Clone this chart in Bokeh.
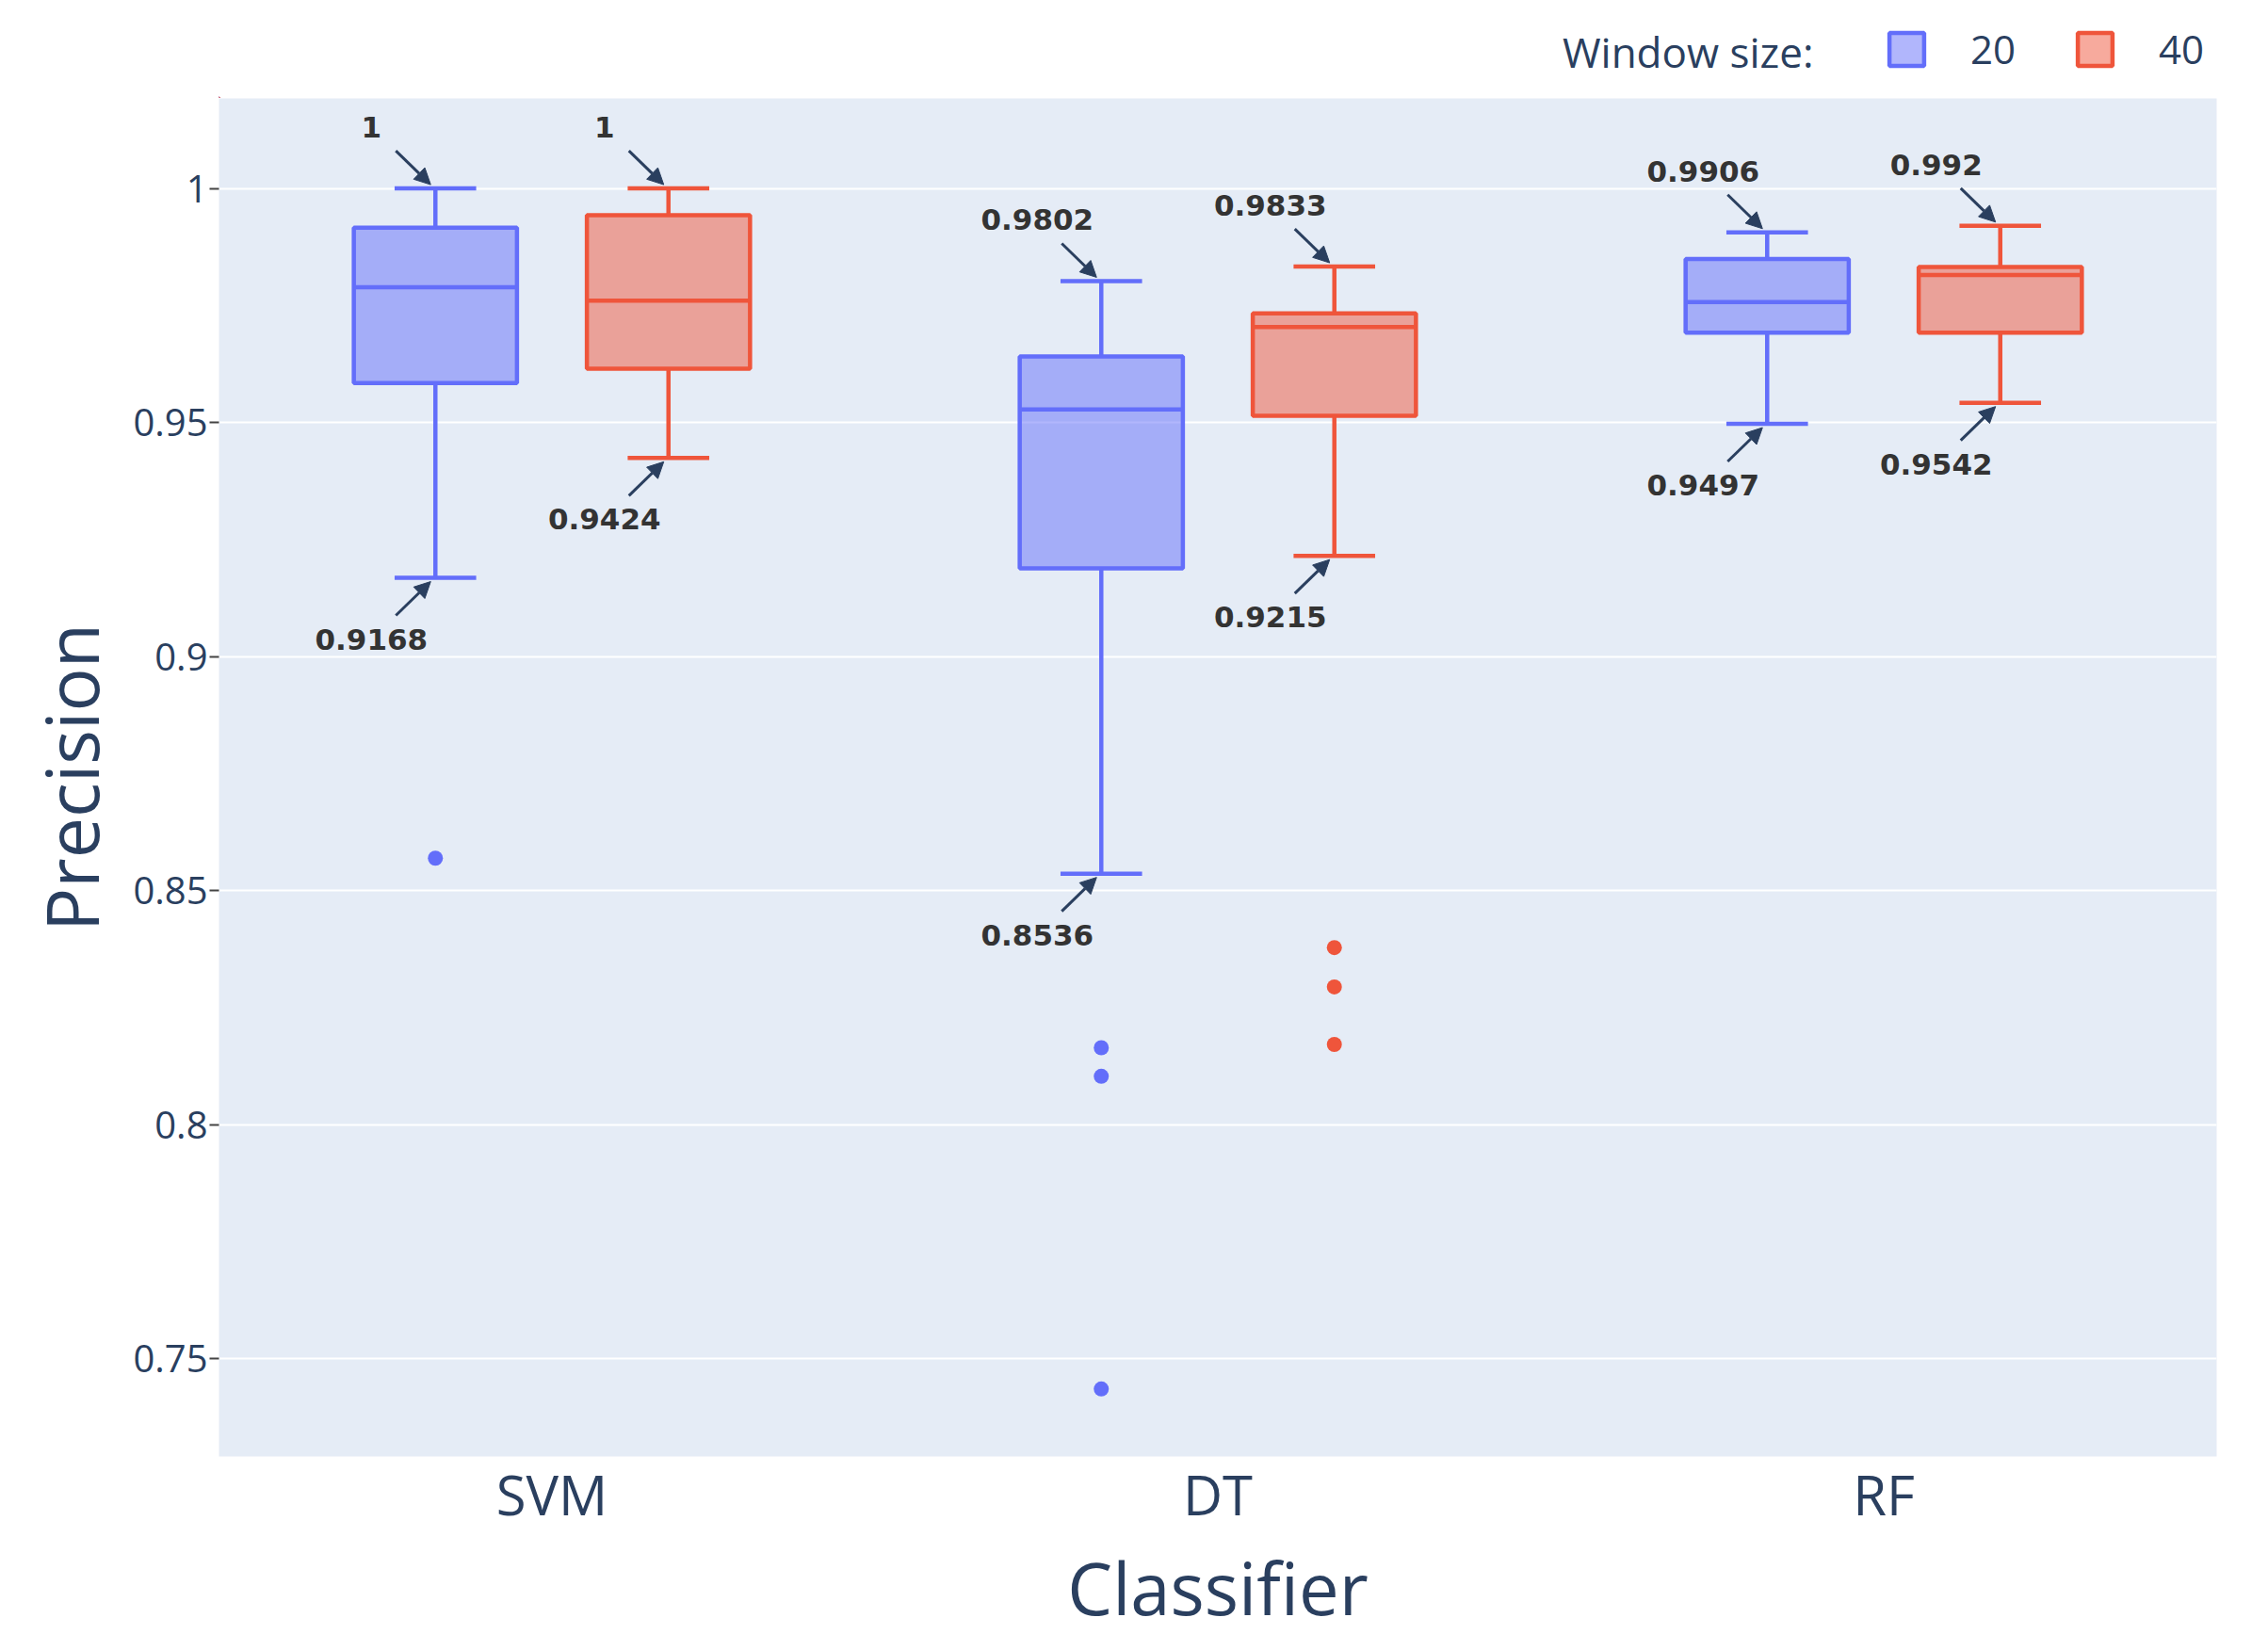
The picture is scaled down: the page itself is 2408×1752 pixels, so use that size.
from bokeh.plotting import figure
from bokeh.layouts import column
from bokeh.models import (ColumnDataSource, FactorRange, Range1d, Legend, LegendItem, Label,
                          Arrow, NormalHead, FixedTicker, CustomJSTickFormatter)
from bokeh.embed import file_html
from bokeh.resources import INLINE
from bokeh.core.properties import value

# ---------------- data ----------------
classifiers = ["SVM", "DT", "RF"]
window_sizes = ["20", "40"]
legend_title = "Window size:"

w20_lower = [0.9168, 0.8536, 0.9497]
w20_q1 = [0.9584, 0.9188, 0.9692]
w20_median = [0.9789, 0.9528, 0.9757]
w20_q3 = [0.9916, 0.9641, 0.9849]
w20_upper = [1.0, 0.9802, 0.9906]
w20_outlier_cls = ["SVM", "DT", "DT", "DT"]
w20_outliers = [0.8569, 0.8164, 0.8103, 0.7435]

w40_lower = [0.9424, 0.9215, 0.9542]
w40_q1 = [0.9615, 0.9514, 0.9692]
w40_median = [0.9760, 0.9704, 0.9815]
w40_q3 = [0.9943, 0.9733, 0.9832]
w40_upper = [1.0, 0.9833, 0.992]
w40_outlier_cls = ["DT", "DT", "DT"]
w40_outliers = [0.8378, 0.8294, 0.8171]

y_ticks = [0.75, 0.8, 0.85, 0.9, 0.95, 1.0]

# ---------------- style ----------------
COL20 = "#636efa"
COL40 = "#EF553B"
TXT = "#2a3f5f"
BG = "#E5ECF6"
FONT = "Open Sans"

FRAME_W, FRAME_H = 2121, 1442
BORDER_L, BORDER_R, BORDER_B = 232, 53, 204
TOTAL_W = BORDER_L + FRAME_W + BORDER_R
LEG_H = 104
Y0, Y1 = 0.72907, 1.01923
BOX_W = 0.245
OFFSET = 0.175
CAP_W = BOX_W / 2
LW = 4.5

p = figure(x_range=FactorRange(*classifiers), y_range=Range1d(Y0, Y1),
           frame_width=FRAME_W, frame_height=FRAME_H,
           min_border_left=BORDER_L, min_border_right=BORDER_R, min_border_top=0,
           min_border_bottom=BORDER_B,
           output_backend="svg", toolbar_location=None)
p.background_fill_color = BG
p.border_fill_color = "white"
p.outline_line_color = None

cat_index = {c: i for i, c in enumerate(classifiers)}
px_x = FRAME_W / len(classifiers)          # pixels per category unit
px_y = FRAME_H / (Y1 - Y0)                 # pixels per y unit

series = [
    ("20", COL20, -OFFSET, w20_lower, w20_q1, w20_median, w20_q3, w20_upper, w20_outlier_cls, w20_outliers),
    ("40", COL40, OFFSET, w40_lower, w40_q1, w40_median, w40_q3, w40_upper, w40_outlier_cls, w40_outliers),
]

# small figure above the chart that holds the legend (its frame aligns with the chart's frame)
lf = figure(width=TOTAL_W, height=LEG_H, x_range=Range1d(0, 1), y_range=Range1d(0, 1),
            min_border=0, x_axis_location=None, y_axis_location=None,
            output_backend="svg", toolbar_location=None)
lf.grid.visible = False
lf.outline_line_color = None
lf.background_fill_color = "white"
lf.border_fill_color = "white"

legend_items = []
ann_x, ann_y, ann_lab, ann_dy = [], [], [], []
arr = dict(xs=[], ys=[], xe=[], ye=[])

for name, col, off, lo, q1, med, q3, up, ocls, ovals in series:
    xs = [cat_index[c] + 0.5 + off for c in classifiers]
    src = ColumnDataSource(dict(
        x=xs, lower=lo, q1=q1, median=med, q3=q3, upper=up,
        xl=[x - BOX_W / 2 for x in xs], xr=[x + BOX_W / 2 for x in xs],
        cl=[x - CAP_W / 2 for x in xs], cr=[x + CAP_W / 2 for x in xs]))
    # whiskers
    p.segment(x0="x", x1="x", y0="q3", y1="upper", source=src, line_color=col, line_width=LW)
    p.segment(x0="x", x1="x", y0="q1", y1="lower", source=src, line_color=col, line_width=LW)
    p.segment(x0="cl", x1="cr", y0="upper", y1="upper", source=src, line_color=col, line_width=LW)
    p.segment(x0="cl", x1="cr", y0="lower", y1="lower", source=src, line_color=col, line_width=LW)
    p.vbar(x="x", width=BOX_W, bottom="q1", top="q3", source=src,
           fill_color=col, fill_alpha=0.5, line_color=col, line_width=LW)
    p.segment(x0="xl", x1="xr", y0="median", y1="median", source=src, line_color=col, line_width=LW)
    osrc = ColumnDataSource(dict(x=[cat_index[c] + 0.5 + off for c in ocls], y=ovals))
    p.scatter(x="x", y="y", source=osrc, size=16, fill_color=col, line_color=col, line_width=0)

    # legend swatch renderer (same styling; one off-screen row so the swatch gets drawn)
    lr = lf.vbar(x="x", width=0.1, bottom="b", top="t",
                 source=ColumnDataSource(dict(x=[-10], b=[-10], t=[-9])),
                 fill_color=col, fill_alpha=0.5, line_color=col, line_width=LW)
    legend_items.append(LegendItem(label=name, renderers=[lr]))

    for x, u, l in zip(xs, up, lo):
        for v, sgn in ((u, -1), (l, 1)):
            ann_x.append(x)
            ann_y.append(v)
            ann_lab.append(f"{v:g}")
            ann_dy.append(sgn)
            arr["xs"].append(x - 42 / px_x)
            arr["ys"].append(v - sgn * 40 / px_y)
            arr["xe"].append(x - 5 / px_x)
            arr["ye"].append(v - sgn * 4 / px_y)

# annotation texts
for sgn in (-1, 1):
    idx = [i for i, s in enumerate(ann_dy) if s == sgn]
    tsrc = ColumnDataSource(dict(x=[ann_x[i] for i in idx], y=[ann_y[i] for i in idx],
                                 t=[ann_lab[i] for i in idx]))
    p.text(x="x", y="y", text="t", source=tsrc, x_offset=-68, y_offset=sgn * 65,
           text_align="center", text_baseline="middle",
           text_font=value("DejaVu Sans"), text_font_style="bold",
           text_font_size="31px", text_color="#333333")

asrc = ColumnDataSource(dict(x_start=arr["xs"], y_start=arr["ys"], x_end=arr["xe"], y_end=arr["ye"]))
p.add_layout(Arrow(source=asrc, x_start="x_start", y_start="y_start", x_end="x_end", y_end="y_end",
                   line_color=TXT, line_width=3,
                   end=NormalHead(size=17, fill_color=TXT, line_color=TXT, line_width=1)))

# axes
p.xgrid.grid_line_color = None
p.ygrid.grid_line_color = "white"
p.ygrid.grid_line_width = 2
p.yaxis.ticker = FixedTicker(ticks=y_ticks)
p.yaxis.formatter = CustomJSTickFormatter(code="return String(Math.round(tick*100)/100);")
p.yaxis.axis_line_color = None
p.yaxis.major_tick_out = 10
p.yaxis.major_tick_in = 0
p.yaxis.major_tick_line_color = "#444444"
p.yaxis.major_tick_line_width = 2
p.yaxis.minor_tick_line_color = None
p.yaxis.major_label_standoff = 2
p.yaxis.major_label_text_font = FONT
p.yaxis.major_label_text_font_size = "40px"
p.yaxis.major_label_text_color = TXT
p.yaxis.axis_label = "Precision"
p.yaxis.axis_label_text_font = FONT
p.yaxis.axis_label_text_font_size = "77px"
p.yaxis.axis_label_text_font_style = "normal"
p.yaxis.axis_label_text_color = TXT
p.yaxis.axis_label_standoff = 10

p.xaxis.axis_line_color = None
p.xaxis.major_tick_line_color = None
p.xaxis.minor_tick_line_color = None
p.xaxis.major_label_standoff = -6
p.xaxis.major_label_text_font = FONT
p.xaxis.major_label_text_font_size = "58px"
p.xaxis.major_label_text_color = TXT
p.xaxis.axis_label = "Classifier"
p.xaxis.axis_label_text_font = FONT
p.xaxis.axis_label_text_font_size = "76px"
p.xaxis.axis_label_text_font_style = "normal"
p.xaxis.axis_label_text_color = TXT
p.xaxis.axis_label_standoff = 5

# legend: title text + two swatches, positioned in pixels relative to the strip's frame
lf.add_layout(Label(x=1925 - BORDER_L, y=LEG_H - 54, x_units="screen", y_units="screen",
                    text=legend_title, text_align="right", text_baseline="middle",
                    text_font=FONT, text_font_size="44px", text_color=TXT))
legend = Legend(items=legend_items, orientation="horizontal", location=(1987 - BORDER_L, 10),
                label_text_font=FONT, label_text_font_size="42px", label_text_color=TXT,
                label_standoff=45, spacing=61, glyph_width=46, glyph_height=44,
                padding=14, margin=0, border_line_alpha=0, background_fill_alpha=0)
lf.add_layout(legend, "center")

layout = column(lf, p, spacing=0)
open("out.html", "w").write(file_html(layout, INLINE))
